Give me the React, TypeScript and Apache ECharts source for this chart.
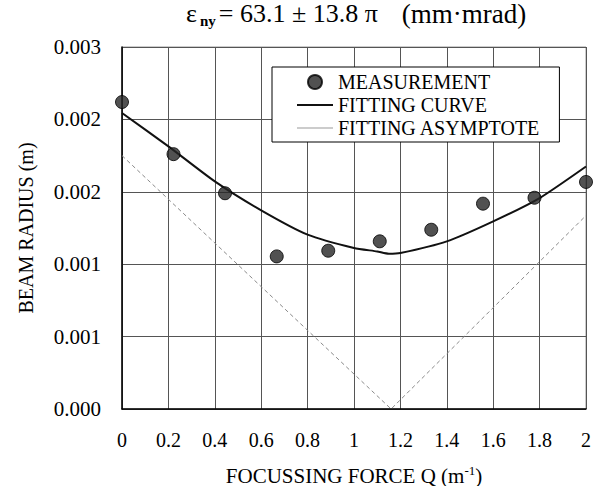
import React, { useEffect, useRef } from "react";
import * as echarts from "echarts";

// Measured points (Q in 1/m, radius in m)
const measQ = [0, 0.222, 0.444, 0.667, 0.889, 1.111, 1.333, 1.556, 1.778, 2.0];
const measR = [0.00212, 0.00176, 0.00149, 0.001054, 0.001093, 0.001158, 0.001238, 0.001418, 0.001459, 0.001568];

// Fitting curve
const fitQ = [0, 0.2, 0.4, 0.6, 0.8, 1.0, 1.1, 1.15, 1.2, 1.4, 1.6, 1.8, 2.0];
const fitR = [0.002044, 0.001814, 0.001572, 0.001372, 0.001204, 0.001112, 0.001088, 0.001072, 0.001077, 0.001158, 0.001296, 0.001457, 0.001675];

// Fitting asymptote
const asymQ = [0, 1.16, 2.0];
const asymR = [0.00175, 0, 0.001336];

const yTickLabels = ["0.000", "0.001", "0.001", "0.002", "0.002", "0.003"];
const xTickLabels = ["0", "0.2", "0.4", "0.6", "0.8", "1", "1.2", "1.4", "1.6", "1.8", "2"];

const FONT = "Times New Roman, Liberation Serif, DejaVu Serif, serif";

export default function App() {
  const ref = useRef<HTMLDivElement>(null);
  useEffect(() => {
    if (!ref.current) return;
    const chart = echarts.init(ref.current, undefined, { renderer: "svg" });
    const zip = (a: number[], b: number[]) => a.map((v, i) => [v, b[i]]);
    chart.setOption({
      animation: false,
      backgroundColor: "#ffffff",
      textStyle: { fontFamily: FONT, color: "#000" },
      grid: {
        left: 122,
        right: 16,
        top: 47,
        bottom: 77,
        show: true,
        borderColor: "#999",
        borderWidth: 1,
        outerBoundsMode: "none",
        containLabel: false,
      },
      graphic: [
        {
          type: "text",
          left: 186,
          top: 0,
          style: {
            text: "{e|ε} {s|ny} {m|= 63.1 ± 13.8 π}{p|(mm·mrad)}",
            fill: "#000",
            fontFamily: FONT,
            rich: {
              e: { fontFamily: FONT, fontSize: 26, fill: "#000" },
              s: { fontFamily: FONT, fontSize: 15, fontWeight: "bold", fill: "#000", padding: [15, 0, 0, 0] },
              m: { fontFamily: FONT, fontSize: 26, fill: "#000" },
              p: { fontFamily: FONT, fontSize: 27, fill: "#000", padding: [0, 0, 0, 24] },
            },
          },
        },
      ],
      legend: {
        orient: "vertical",
        left: 272,
        top: 67,
        width: 287,
        backgroundColor: "#fff",
        borderColor: "#000",
        borderWidth: 1,
        padding: [4, 19, 3, 25],
        itemWidth: 36,
        itemHeight: 14,
        itemGap: 1,
        textStyle: { fontFamily: FONT, fontSize: 20, color: "#000", lineHeight: 22 },
        data: [
          { name: "MEASUREMENT", icon: "circle" },
          { name: "FITTING CURVE", icon: "path://M0 0H36V2H0Z", itemStyle: { color: "#111" } },
          { name: "FITTING ASYMPTOTE", icon: "path://M0 0H36V1H0Z", itemStyle: { color: "#999" } },
        ],
      },
      xAxis: {
        type: "value",
        min: 0,
        max: 2,
        interval: 0.2,
        name: "FOCUSSING FORCE Q (m{sup|-1})",
        nameLocation: "middle",
        nameGap: 55,
        nameTextStyle: {
          fontFamily: FONT,
          fontSize: 21,
          color: "#000",
          rich: { sup: { fontFamily: FONT, fontSize: 13, color: "#000", padding: [0, 0, 10, 0] } },
        },
        axisLine: { show: true, lineStyle: { color: "#000", width: 1.5 } },
        axisTick: { show: false },
        splitLine: { show: true, lineStyle: { color: "#555", width: 1 } },
        axisLabel: {
          fontFamily: FONT,
          fontSize: 20,
          color: "#000",
          margin: 21,
          formatter: (v: number) => xTickLabels[Math.round(v / 0.2)] ?? "",
        },
      },
      yAxis: {
        type: "value",
        min: 0,
        max: 0.0025,
        interval: 0.0005,
        name: "BEAM RADIUS (m)",
        nameLocation: "middle",
        nameGap: 86,
        nameTextStyle: { fontFamily: FONT, fontSize: 20, color: "#000" },
        axisLine: { show: true, lineStyle: { color: "#000", width: 1.5 } },
        axisTick: { show: false },
        splitLine: { show: true, lineStyle: { color: "#555", width: 1 } },
        axisLabel: {
          fontFamily: FONT,
          fontSize: 21,
          color: "#000",
          margin: 21,
          formatter: (v: number) => yTickLabels[Math.round(v / 0.0005)] ?? "",
        },
      },
      series: [
        {
          name: "FITTING ASYMPTOTE",
          type: "line",
          data: zip(asymQ, asymR),
          showSymbol: false,
          symbol: "none",
          lineStyle: { color: "#8a8a8a", width: 1, type: [4, 3] },
          itemStyle: { color: "#999" },
          z: 2,
        },
        {
          name: "FITTING CURVE",
          type: "line",
          data: zip(fitQ, fitR),
          showSymbol: false,
          symbol: "none",
          smooth: 0.2,
          lineStyle: { color: "#111", width: 2 },
          itemStyle: { color: "#111" },
          z: 3,
        },
        {
          name: "MEASUREMENT",
          type: "scatter",
          data: zip(measQ, measR),
          symbol: "circle",
          symbolSize: 13,
          itemStyle: { color: "#262626", borderColor: "#000", borderWidth: 1 },
          z: 4,
        },
      ],
    });
    return () => chart.dispose();
  }, []);
  return (
    <div
      ref={ref}
      style={{ position: "fixed", left: 0, top: 0, width: 602, height: 486, background: "#fff" }}
    />
  );
}
